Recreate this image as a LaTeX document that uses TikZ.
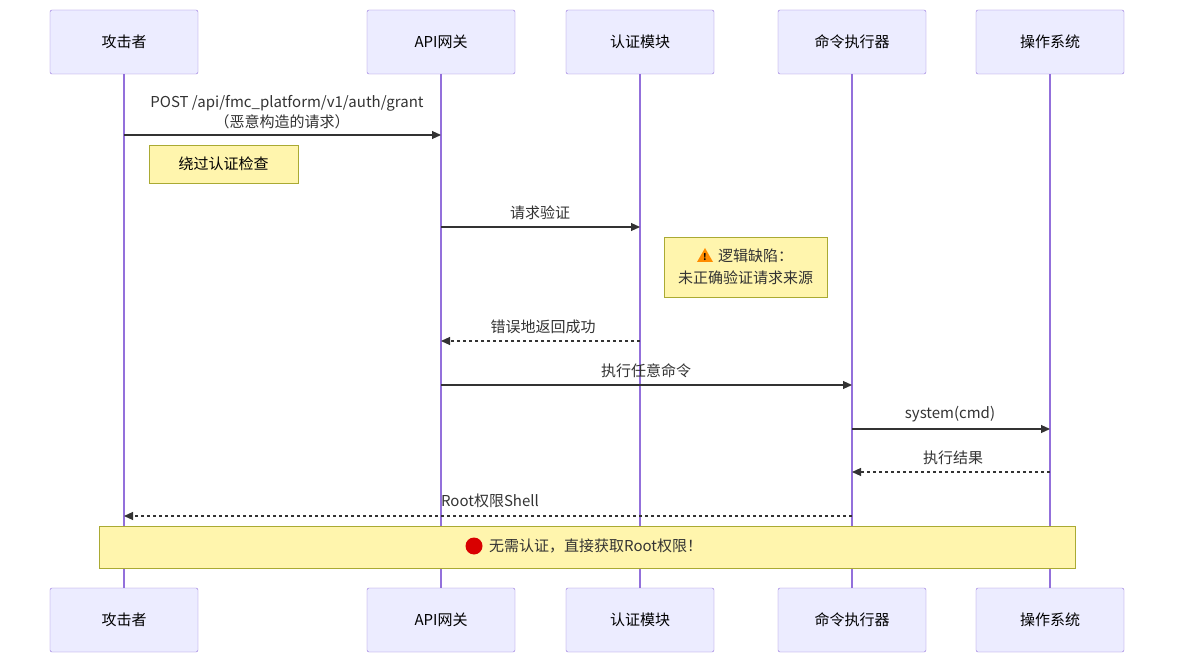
\documentclass[tikz,border=0pt]{standalone}
\usepackage{fontspec}
\setmainfont{Noto Sans CJK SC}
\usetikzlibrary{arrows.meta,positioning}
\definecolor{actfill}{HTML}{ECECFF}
\definecolor{actline}{HTML}{9370DB}
\definecolor{notefill}{HTML}{FFF5AD}
\definecolor{noteline}{HTML}{AAAA33}
\definecolor{msg}{HTML}{333333}
\tikzset{
  actor/.style={draw=actline,fill=actfill,rounded corners=2pt,minimum width=148pt,minimum height=64pt,font=\fontsize{15}{18}\selectfont,inner sep=0pt},
  note/.style={draw=noteline,fill=notefill,font=\fontsize{15}{20}\selectfont,inner sep=0pt,align=center},
  lifeline/.style={actline,line width=1.2pt},
  call/.style={msg,line width=1.1pt,-{Triangle[length=9pt,width=8pt]}},
  reply/.style={call,dash pattern=on 3pt off 3pt},
  lbl/.style={font=\fontsize{15}{19}\selectfont,text=msg,align=center,inner sep=0pt}
}
\begin{document}
\begin{tikzpicture}[x=1pt,y=-1pt]
\useasboundingbox (0,0) rectangle (1183,668);
% participants
\foreach \n/\x/\t in {atk/124/攻击者,gw/441/API网关,auth/640/认证模块,exe/852/命令执行器,os/1050/操作系统}{
  \draw[lifeline] (\x,74) -- (\x,588);
  \node[actor] (\n) at (\x,42) {\t};
  \node[actor] (\n b) at (\x,620) {\t};
}
% messages
\coordinate (a1) at (124,135); \coordinate (g1) at (441,135);
\draw[call] (a1) -- (g1);
\node[lbl] at (287,103) {POST /api/fmc\_platform/v1/auth/grant};
\node[lbl] at (282,122) {（恶意构造的请求）};
\node[note,minimum width=149pt,minimum height=38pt] (n1) at (223.5,164) {绕过认证检查};
\coordinate (g2) at (441,227); \coordinate (u2) at (640,227);
\draw[call] (g2) -- (u2);
\node[lbl] at (540,213) {请求验证};
\node[note,minimum width=163pt,minimum height=60pt] (n2) at (745.5,267) {};
\fill[orange!90!yellow] (705,248) -- (713,262) -- (697,262) -- cycle;
\node[font=\bfseries\fontsize{9}{9}\selectfont,inner sep=0pt] at (705,257) {!};
\node[lbl,anchor=west] at (718,256) {逻辑缺陷：};
\node[lbl] at (745.5,278) {未正确验证请求来源};
\coordinate (u3) at (640,341); \coordinate (g3) at (441,341);
\draw[reply] (u3) -- (g3);
\node[lbl] at (543,327) {错误地返回成功};
\coordinate (g4) at (441,385); \coordinate (e4) at (852,385);
\draw[call] (g4) -- (e4);
\node[lbl] at (646,371) {执行任意命令};
\coordinate (e5) at (852,429); \coordinate (o5) at (1050,429);
\draw[call] (e5) -- (o5);
\node[lbl] at (950,414) {system(cmd)};
\coordinate (o6) at (1050,472); \coordinate (e6) at (852,472);
\draw[reply] (o6) -- (e6);
\node[lbl] at (953,458) {执行结果};
\coordinate (e7) at (852,516); \coordinate (a7) at (124,516);
\draw[reply] (e7) -- (a7);
\node[lbl] at (490,501) {Root权限Shell};
\node[note,minimum width=976pt,minimum height=42pt] (n3) at (587,547) {};
\fill[red!85!black] (474,546) circle (8.5);
\node[lbl,anchor=west] at (489,546) {无需认证，直接获取Root权限！};
\end{tikzpicture}
\end{document}
